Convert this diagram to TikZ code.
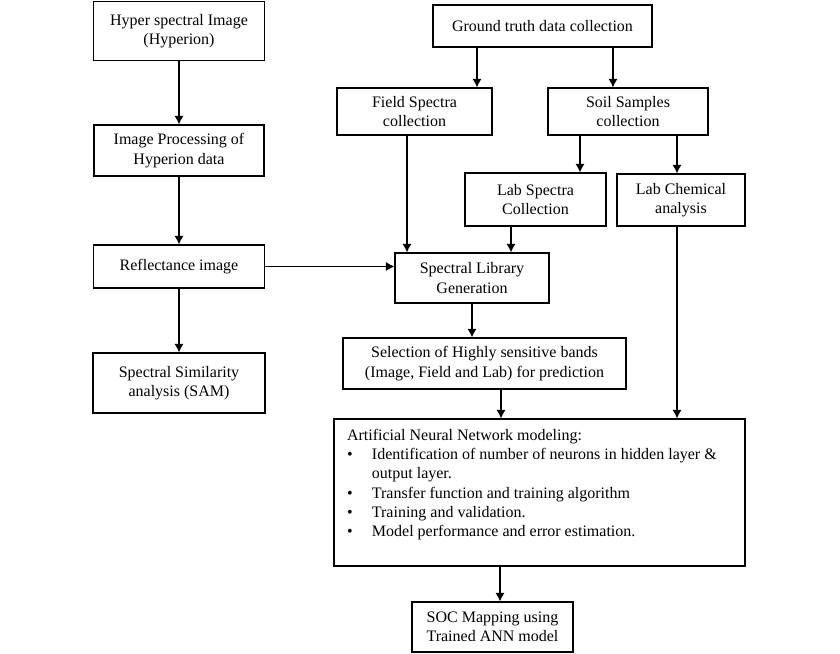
\documentclass[tikz,border=0pt]{standalone}
\usepackage{fontspec}
\setmainfont{Liberation Serif}
\usetikzlibrary{arrows.meta}

\begin{document}
\begin{tikzpicture}[x=0.75pt, y=-0.75pt,
        every node/.style={draw, line width=0.8pt, align=center, inner sep=2pt, font=\fontsize{12}{14.4}\selectfont},
        flow/.style={line width=1.1pt, -{Latex[length=6.5pt,width=7pt]}}]
        \useasboundingbox[fill=white] (0,0) rectangle (840,654);
        % left column
        \node[minimum width=128.25pt, minimum height=44.25pt] (hyper) at (179,31) {Hyper spectral Image\\(Hyperion)};
        \node[minimum width=127.5pt, minimum height=38.25pt] (improc) at (179,150.5) {Image Processing of\\Hyperion data};
        \node[minimum width=128.25pt, minimum height=32.25pt] (refl) at (179,266.5) {Reflectance image};
        \node[minimum width=129pt, minimum height=45pt] (sam) at (179,383) {Spectral Similarity\\analysis (SAM)};
        % ground truth part
        \node[minimum width=164.25pt, minimum height=31.5pt] (ground) at (542.5,26) {Ground truth data collection};
        \node[minimum width=116.25pt, minimum height=35.25pt] (field) at (414.5,111.5) {Field Spectra\\collection};
        \node[minimum width=120pt, minimum height=35.25pt] (soil) at (628,111.5) {Soil Samples\\collection};
        \node[minimum width=105.75pt, minimum height=39.75pt] (labspec) at (535.5,199.5) {Lab Spectra\\Collection};
        \node[minimum width=96pt, minimum height=39pt] (labchem) at (681,200) {Lab Chemical\\analysis};
        \node[minimum width=115.5pt, minimum height=37.5pt] (lib) at (472,278) {Spectral Library\\Generation};
        \node[minimum width=212.25pt, minimum height=38.25pt] (sel) at (484.5,363.5) {Selection of Highly sensitive bands\\(Image, Field and Lab) for prediction};
        \node[minimum width=308.25pt, minimum height=110.25pt] (ann) at (539.5,492.5) {};
        \node[draw=none, anchor=north west, inner sep=0pt, align=left] (anntext) at ([shift={(13,8)}]ann.north west) {%
                \begin{tabular}{@{}l@{\hspace{14.5pt}}l@{}}
                        \multicolumn{2}{@{}l@{}}{Artificial Neural Network modeling:}\\
                        \textbullet & Identification of number of neurons in hidden layer \&\\
                                    & output layer.\\
                        \textbullet & Transfer function and training algorithm\\
                        \textbullet & Training and validation.\\
                        \textbullet & Model performance and error estimation.
                \end{tabular}};
        \node[minimum width=120.75pt, minimum height=37.5pt] (soc) at (492.5,627) {SOC Mapping using\\Trained ANN model};
        % connectors
        \draw[flow] (hyper) -- (improc);
        \draw[flow] (improc) -- (refl);
        \draw[flow] (refl) -- (sam);
        \draw[flow] ([shift={(-65.5,0)}]ground.south) -- ([shift={(-65.5,0)}]ground.south |- field.north);
        \draw[flow] ([shift={(70.5,0)}]ground.south) -- ([shift={(70.5,0)}]ground.south |- soil.north);
        \draw[flow] ([shift={(-7.5,0)}]field.south) -- ([shift={(-7.5,0)}]field.south |- lib.north);
        \draw[flow] ([shift={(-48,0)}]soil.south) -- ([shift={(-48,0)}]soil.south |- labspec.north);
        \draw[flow] ([shift={(49,0)}]soil.south) -- ([shift={(49,0)}]soil.south |- labchem.north);
        \draw[flow] ([shift={(-24.5,0)}]labspec.south) -- ([shift={(-24.5,0)}]labspec.south |- lib.north);
        \draw[flow] ([shift={(-4,0)}]labchem.south) -- ([shift={(-4,0)}]labchem.south |- ann.north);
        \draw[flow] (refl.east) -- (refl.east -| lib.west);
        \draw[flow] (lib.south) -- (lib.south |- sel.north);
        \draw[flow] ([shift={(16.5,0)}]sel.south) -- ([shift={(16.5,0)}]sel.south |- ann.north);
        \draw[flow] ([shift={(-39.5,0)}]ann.south) -- ([shift={(-39.5,0)}]ann.south |- soc.north);
\end{tikzpicture}
\end{document}
